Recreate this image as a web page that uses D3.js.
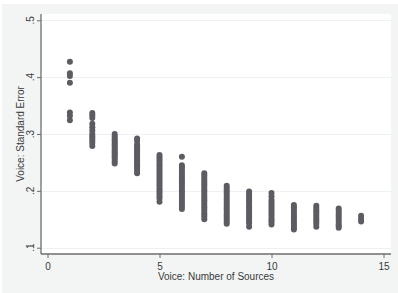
<!DOCTYPE html>
<html>
<head>
<meta charset="utf-8">
<style>
  html, body { margin: 0; padding: 0; background: #ffffff; }
  svg { display: block; font-family: "Liberation Sans", Arial, sans-serif; }
</style>
</head>
<body>
<div id="chart"></div>
<script src="https://cdn.jsdelivr.net/npm/d3@7"></script>
<script>
(function () {
  // number of sources (x) and standard errors observed at each count
  var sources = [1, 2, 3, 4, 5, 6, 7, 8, 9, 10, 11, 12, 13, 14];
  var se1 = [0.427, 0.407, 0.402, 0.390, 0.338, 0.332, 0.324];
  var se2 = [0.337, 0.333, 0.328, 0.318, 0.312, 0.306, 0.300, 0.296, 0.292, 0.288, 0.284, 0.279];
  var se3 = [0.300, 0.296, 0.292, 0.289, 0.286, 0.283, 0.280, 0.277, 0.274, 0.271, 0.268, 0.265, 0.262, 0.259, 0.256, 0.252, 0.248];
  var se4 = [0.292, 0.288, 0.282, 0.278, 0.275, 0.272, 0.269, 0.266, 0.263, 0.260, 0.257, 0.254, 0.251, 0.248, 0.245, 0.242, 0.239, 0.235, 0.231];
  var se5 = [0.263, 0.259, 0.255, 0.251, 0.247, 0.243, 0.239, 0.235, 0.231, 0.227, 0.223, 0.219, 0.215, 0.211, 0.207, 0.203, 0.199, 0.195, 0.191, 0.187, 0.181];
  var se6 = [0.260, 0.245, 0.241, 0.237, 0.233, 0.229, 0.225, 0.221, 0.217, 0.213, 0.209, 0.205, 0.201, 0.197, 0.193, 0.189, 0.185, 0.181, 0.177, 0.173, 0.168];
  var se7 = [0.231, 0.227, 0.223, 0.219, 0.215, 0.211, 0.207, 0.203, 0.199, 0.195, 0.191, 0.187, 0.183, 0.179, 0.175, 0.171, 0.167, 0.163, 0.159, 0.155, 0.150];
  var se8 = [0.209, 0.205, 0.201, 0.197, 0.193, 0.189, 0.185, 0.181, 0.177, 0.173, 0.169, 0.165, 0.161, 0.157, 0.153, 0.149, 0.145, 0.142];
  var se9 = [0.199, 0.195, 0.191, 0.187, 0.183, 0.179, 0.175, 0.171, 0.167, 0.163, 0.159, 0.155, 0.151, 0.147, 0.143, 0.137];
  var se10 = [0.196, 0.190, 0.184, 0.180, 0.176, 0.172, 0.168, 0.164, 0.160, 0.156, 0.152, 0.148, 0.145, 0.141];
  var se11 = [0.175, 0.171, 0.167, 0.163, 0.159, 0.155, 0.151, 0.147, 0.143, 0.139, 0.135, 0.132];
  var se12 = [0.174, 0.170, 0.166, 0.162, 0.158, 0.154, 0.150, 0.146, 0.142, 0.137];
  var se13 = [0.169, 0.165, 0.161, 0.157, 0.153, 0.149, 0.145, 0.141, 0.138, 0.135];
  var se14 = [0.156, 0.151, 0.146];
  var seBySource = [se1, se2, se3, se4, se5, se6, se7, se8, se9, se10, se11, se12, se13, se14];

  var xTicks = [0, 5, 10, 15];
  var yTicks = [0.1, 0.2, 0.3, 0.4, 0.5];
  var yTickLabels = [".1", ".2", ".3", ".4", ".5"];
  var xTitle = "Voice: Number of Sources";
  var yTitle = "Voice: Standard Error";

  var points = [];
  sources.forEach(function (s, i) {
    seBySource[i].forEach(function (v) { points.push({ x: s, y: v }); });
  });

  var W = 398, H = 293;
  var plot = { left: 41, right: 391, top: 14, bottom: 254 };
  var axisColor = "#6c6c6c", textColor = "#3a3a3a";

  var x = d3.scaleLinear().domain([0, 15]).range([47.5, 383.5]);
  var y = d3.scaleLinear().domain([0.1, 0.5]).range([247.7, 20.3]);

  var svg = d3.select("#chart").append("svg")
    .attr("width", W)
    .attr("height", H);

  // outer graph region
  svg.append("rect")
    .attr("x", 2).attr("y", 4)
    .attr("width", W - 2).attr("height", H - 4)
    .attr("fill", "#f3f5f5");

  // plot region
  svg.append("rect")
    .attr("x", plot.left).attr("y", plot.top)
    .attr("width", plot.right - plot.left).attr("height", plot.bottom - plot.top)
    .attr("fill", "#ffffff");

  // gridlines
  svg.append("g").selectAll("line")
    .data(yTicks)
    .enter().append("line")
      .attr("x1", plot.left).attr("x2", plot.right)
      .attr("y1", function (d) { return Math.round(y(d)) + 0.5; })
      .attr("y2", function (d) { return Math.round(y(d)) + 0.5; })
      .style("stroke", "#edf1f1")
      .style("stroke-width", 1);

  // points
  svg.append("g").selectAll("circle")
    .data(points)
    .enter().append("circle")
      .attr("cx", function (d) { return x(d.x); })
      .attr("cy", function (d) { return y(d.y); })
      .attr("r", 3)
      .style("fill", "#5c5c63");

  // y axis (ticks only, labels drawn rotated below)
  var yAxis = d3.axisLeft(y)
    .tickValues(yTicks)
    .tickFormat("")
    .tickSize(4)
    .tickSizeOuter(0);
  var yGuide = svg.append("g").attr("transform", "translate(" + plot.left + ",0)");
  yAxis(yGuide);
  yGuide.select(".domain").remove();
  yGuide.selectAll(".tick text").remove();
  yGuide.append("line")
    .attr("x1", 0).attr("x2", 0)
    .attr("y1", plot.top).attr("y2", plot.bottom)
    .style("stroke", axisColor).style("stroke-width", 1.3);
  yGuide.selectAll(".tick line").style("stroke", axisColor);

  svg.append("g").selectAll("text")
    .data(yTicks)
    .enter().append("text")
      .attr("transform", function (d) { return "translate(33.5," + y(d) + ") rotate(-90)"; })
      .attr("text-anchor", "middle")
      .style("font-size", "10px")
      .style("fill", textColor)
      .text(function (d, i) { return yTickLabels[i]; });

  // x axis
  var xAxis = d3.axisBottom(x)
    .tickValues(xTicks)
    .tickFormat(d3.format("d"))
    .tickSize(4)
    .tickPadding(5)
    .tickSizeOuter(0);
  var xGuide = svg.append("g").attr("transform", "translate(0," + plot.bottom + ")");
  xAxis(xGuide);
  xGuide.select(".domain").remove();
  xGuide.append("line")
    .attr("x1", plot.left).attr("x2", plot.right)
    .attr("y1", 0).attr("y2", 0)
    .style("stroke", axisColor).style("stroke-width", 1.3);
  xGuide.selectAll(".tick line").style("stroke", axisColor);
  xGuide.selectAll(".tick text")
    .style("font-size", "10px")
    .style("fill", textColor);

  // axis titles
  svg.append("text")
    .attr("x", (plot.left + plot.right) / 2)
    .attr("y", 280)
    .attr("text-anchor", "middle")
    .style("font-size", "10px")
    .style("fill", textColor)
    .text(xTitle);

  svg.append("text")
    .attr("transform", "translate(24," + ((plot.top + plot.bottom) / 2) + ") rotate(-90)")
    .attr("text-anchor", "middle")
    .style("font-size", "10px")
    .style("fill", textColor)
    .text(yTitle);
})();
</script>
</body>
</html>
